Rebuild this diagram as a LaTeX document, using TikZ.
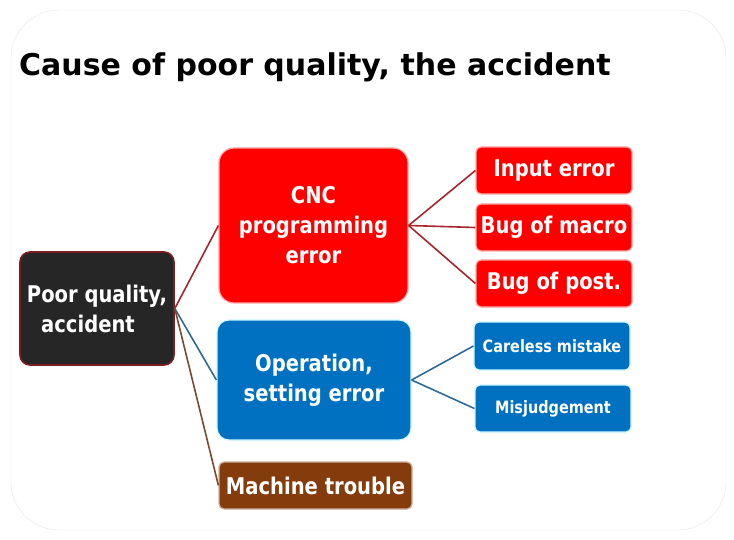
\documentclass[tikz,border=0pt]{standalone}
\usepackage{fontspec}
\setmainfont{DejaVu Sans}
\newfontfamily\boxfont{DejaVu Sans}[FakeStretch=0.85]
\definecolor{rootfill}{HTML}{262626}
\definecolor{rootline}{HTML}{7B1E22}
\definecolor{cncred}{HTML}{FF0000}
\definecolor{operblue}{HTML}{0070C0}
\definecolor{machbrown}{HTML}{843C0C}
\definecolor{redlink}{HTML}{A5262C}
\definecolor{bluelink}{HTML}{2E6A99}
\definecolor{brownlink}{HTML}{7A4A2E}

\begin{document}
\begin{tikzpicture}[x=1pt, y=-1pt,
  box/.style={rectangle, inner sep=0pt, text=white, align=center,
    font=\boxfont\bfseries\fontsize{23}{30}\selectfont, line width=1.2pt},
  redbox/.style={box, fill=cncred, draw=cncred!35!white},
  bluebox/.style={box, fill=operblue, draw=operblue!25!cyan!20!white},
  smalltext/.style={font=\boxfont\bfseries\fontsize{17}{22}\selectfont},
  link/.style={line width=1.6pt}]
\useasboundingbox (0,0) rectangle (734,540);
% frame and title
\draw[black!10, rounded corners=48pt] (11,10) rectangle (726,530);
\node[anchor=base west, inner sep=0pt, font=\bfseries\fontsize{30}{36}\selectfont]
  (title) at (19,76) {Cause of poor quality, the accident};

% root
\node[box, fill=rootfill, draw=rootline, line width=1.6pt, rounded corners=10pt,
  minimum width=154pt, minimum height=113pt] (root) at (97,308.5)
  {Poor quality,\\accident\hspace*{18pt}};

% causes
\node[redbox, rounded corners=15pt, minimum width=189pt, minimum height=155pt]
  (cnc) at (313.5,225.5) {CNC\\programming\\error};
\node[bluebox, rounded corners=12pt, minimum width=194pt, minimum height=120pt]
  (oper) at (314,380) {Operation,\\setting error};
\node[box, fill=machbrown, draw=machbrown!40!white, rounded corners=5pt,
  minimum width=193pt, minimum height=47pt] (mach) at (315.5,485.5) {Machine trouble};

% details
\node[redbox, rounded corners=5pt, minimum width=156pt, minimum height=47pt]
  (input) at (554,170.5) {Input error};
\node[redbox, rounded corners=5pt, minimum width=156pt, minimum height=47pt]
  (macro) at (554,227.5) {Bug of macro};
\node[redbox, rounded corners=5pt, minimum width=156pt, minimum height=47pt]
  (post) at (554,283.5) {Bug of post.};
\node[bluebox, smalltext, rounded corners=5pt, minimum width=156pt, minimum height=48pt]
  (care) at (552,346) {Careless mistake};
\node[bluebox, smalltext, rounded corners=5pt, minimum width=156pt, minimum height=47pt]
  (misj) at (553,408.5) {Misjudgement};

% connectors
\draw[link, redlink] (root.east) -- (cnc.west);
\draw[link, bluelink] (root.east) -- (oper.west);
\draw[link, brownlink] (root.east) -- (mach.west);
\draw[link, redlink] (cnc.east) -- (input.west);
\draw[link, redlink] (cnc.east) -- (macro.west);
\draw[link, redlink] (cnc.east) -- (post.west);
\draw[link, bluelink] (oper.east) -- (care.west);
\draw[link, bluelink] (oper.east) -- (misj.west);
\end{tikzpicture}
\end{document}
